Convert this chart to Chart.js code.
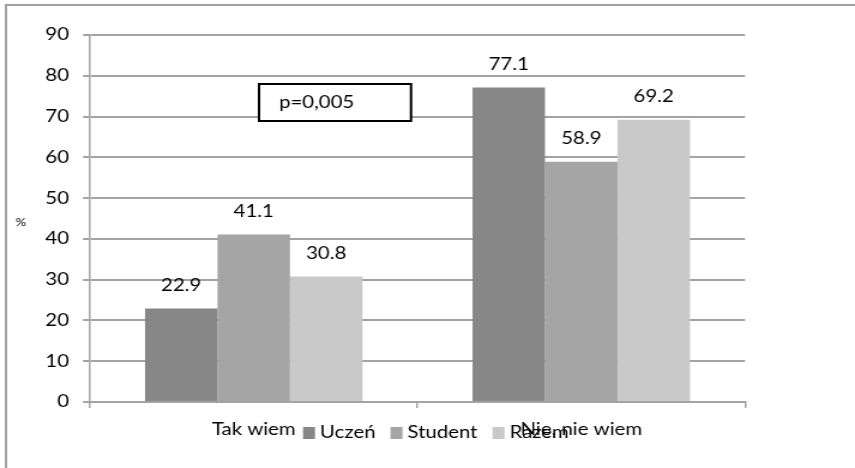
<!DOCTYPE html>
<html>
<head>
<meta charset="utf-8">
<script src="https://cdn.jsdelivr.net/npm/chart.js@4/dist/chart.umd.min.js"></script>
<style>
  html, body { margin: 0; padding: 0; background: #fff; overflow: hidden; }
  #wrap { position: absolute; left: 0; top: 0; transform-origin: 0 0; }
  canvas { display: block; }
</style>
</head>
<body>
<div id="wrap"><canvas id="chart"></canvas></div>
<script>
// Answers per group, in percent
const categories = ['Tak wiem', 'Nie, nie wiem'];
const seriesNames = ['Uczeń', 'Student', 'Razem'];
const uczen = [22.9, 77.1];
const student = [41.1, 58.9];
const razem = [30.8, 69.2];
const yTicks = [0, 10, 20, 30, 40, 50, 60, 70, 80, 90];
const pValueText = 'p=0,005';
const axisUnit = '%';

const seriesColors = ['#878787', '#a5a5a5', '#c9c9c9'];
const FONT = 'Lato';
const FS = 17;

// Glyphs are drawn wide: the canvas is rendered narrower and stretched horizontally.
const W = 855, H = 468, SX = 1.2;
const CW = Math.round(W / SX);
const sx = CW / W; // page px -> canvas px (horizontal)

const wrap = document.getElementById('wrap');
wrap.style.transform = 'scaleX(' + (W / CW) + ')';
const canvas = document.getElementById('chart');
canvas.width = CW;
canvas.height = H;

const gridColor = '#a3a3a3';

// Outer frame, unit label, statistic box, value labels and legend
const extras = {
  id: 'extras',
  beforeDraw(chart) {
    const ctx = chart.ctx;
    ctx.save();
    ctx.strokeStyle = '#a0a0a0';
    ctx.lineWidth = 2;
    ctx.beginPath();
    ctx.moveTo(6 * sx, H);
    ctx.lineTo(6 * sx, 5);
    ctx.lineTo(CW, 5);
    ctx.stroke();
    ctx.restore();
  },
  afterDatasetsDraw(chart) {
    const ctx = chart.ctx;
    const area = chart.chartArea;
    ctx.save();
    ctx.fillStyle = '#000';
    ctx.textAlign = 'center';
    ctx.textBaseline = 'middle';
    ctx.font = FS + 'px ' + FONT;
    chart.data.datasets.forEach((ds, i) => {
      chart.getDatasetMeta(i).data.forEach((el, j) => {
        ctx.fillText(ds.data[j].toFixed(1), el.x, el.y - 23);
      });
    });

    // unit label beside the value axis
    ctx.font = '11px ' + FONT;
    ctx.fillText(axisUnit, 21 * sx, 222);

    // statistic box
    const bx = area.left + (259 - 90) * sx;
    const bw = 152 * sx;
    const by = area.top + 49;
    const bh = 37;
    ctx.fillStyle = '#fff';
    ctx.fillRect(bx, by, bw, bh);
    ctx.strokeStyle = '#000';
    ctx.lineWidth = 2;
    ctx.strokeRect(bx, by, bw, bh);
    ctx.fillStyle = '#000';
    ctx.textAlign = 'left';
    ctx.font = FS + 'px ' + FONT;
    ctx.fillText(pValueText, bx + 20 * sx, by + bh / 2);

    // legend row
    const box = 12;
    let x = area.left + (303 - 90) * sx;
    const ly = 432;
    chart.data.datasets.forEach((ds) => {
      ctx.fillStyle = ds.backgroundColor;
      ctx.fillRect(x, ly - 5, box * sx, box);
      x += (box + 5) * sx;
      ctx.fillStyle = '#000';
      ctx.fillText(ds.label, x, ly + 1);
      x += ctx.measureText(ds.label).width + 15 * sx;
    });
    ctx.restore();
  }
};

new Chart(canvas, {
  type: 'bar',
  data: {
    labels: categories,
    datasets: [
      { label: seriesNames[0], data: uczen, backgroundColor: seriesColors[0] },
      { label: seriesNames[1], data: student, backgroundColor: seriesColors[1] },
      { label: seriesNames[2], data: razem, backgroundColor: seriesColors[2] }
    ]
  },
  options: {
    responsive: false,
    animation: false,
    devicePixelRatio: 1,
    layout: { padding: { left: 0, top: 35, right: CW - 745 * sx, bottom: 0 } },
    datasets: { bar: { categoryPercentage: 0.664, barPercentage: 1.0, borderWidth: 0 } },
    plugins: { legend: { display: false }, tooltip: { enabled: false } },
    scales: {
      x: {
        offset: true,
        grid: { offset: true, drawOnChartArea: false, drawTicks: true, tickLength: 6, color: gridColor, lineWidth: 1.5 },
        border: { display: true, color: gridColor, width: 2 },
        ticks: { color: '#000', font: { family: FONT, size: FS }, padding: 11 },
        afterFit(scale) { scale.height = H - 402; }
      },
      y: {
        min: 0,
        max: 90,
        afterBuildTicks(scale) { scale.ticks = yTicks.map(v => ({ value: v })); },
        grid: { color: gridColor, lineWidth: 2, tickLength: 7 * sx, drawTicks: true },
        border: { display: true, color: gridColor, width: 1.5 },
        ticks: { color: '#000', font: { family: FONT, size: FS }, padding: 14 * sx },
        afterFit(scale) { scale.width = 90 * sx; }
      }
    }
  },
  plugins: [extras]
});
</script>
</body>
</html>
